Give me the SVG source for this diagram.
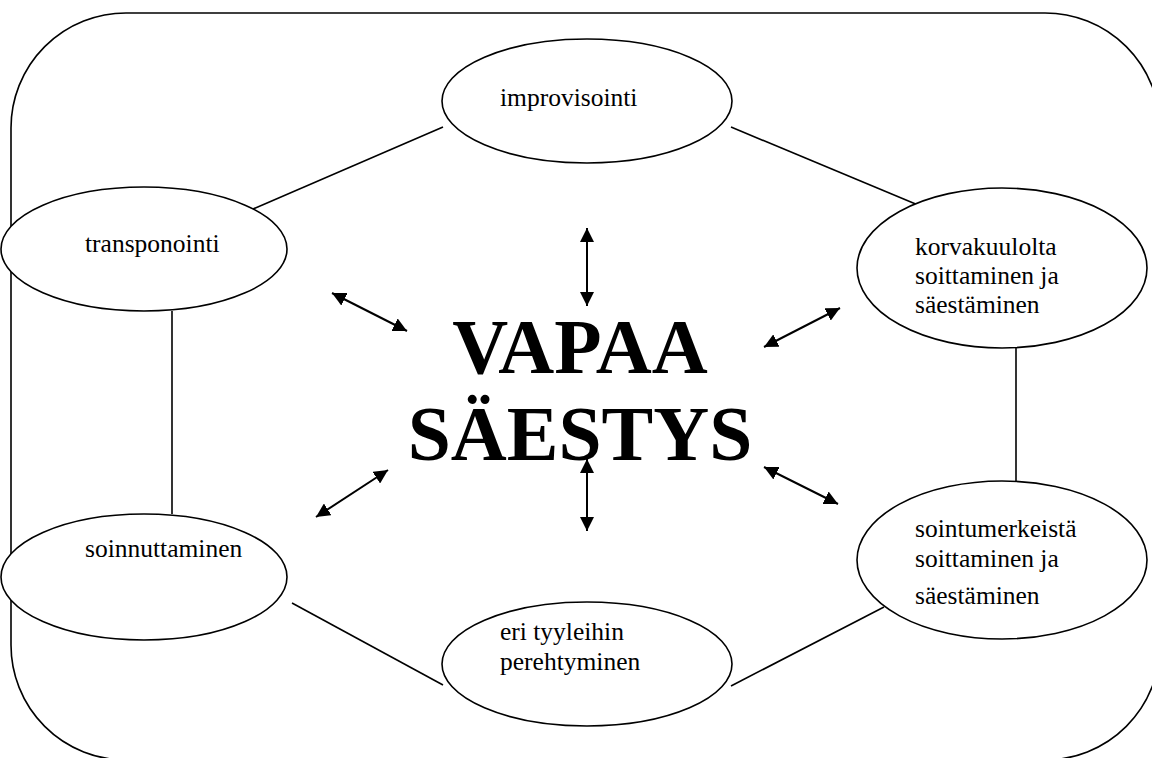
<svg xmlns="http://www.w3.org/2000/svg" width="1152" height="758" viewBox="0 0 1152 758">
<style>
.sh{fill:#fff;stroke:#000;stroke-width:1.6}
.ln{stroke:#000;stroke-width:1.6;fill:none}
.ar{stroke:#000;stroke-width:2;fill:none;marker-start:url(#ah);marker-end:url(#ah)}
.t{font-family:"Liberation Serif","Times New Roman",serif;font-size:25.5px;fill:#000}
.big{font-family:"Liberation Serif","Times New Roman",serif;font-size:77.5px;font-weight:bold;fill:#000;text-anchor:middle}
</style>
<defs>
<marker id="ah" viewBox="0 0 14 14" refX="14" refY="7" markerWidth="14" markerHeight="14" markerUnits="userSpaceOnUse" orient="auto-start-reverse">
<path d="M0,0 L14,7 L0,14 Z" fill="#000"/>
</marker>
</defs>
<rect x="11" y="13" width="1149" height="747" rx="115" ry="115" fill="#fff" stroke="#000" stroke-width="1.6"/>
<g id="connectors">
<line class="ln" x1="443" y1="127" x2="253" y2="209"/>
<line class="ln" x1="731" y1="127" x2="930" y2="210"/>
<line class="ln" x1="172" y1="311" x2="172" y2="514"/>
<line class="ln" x1="1016" y1="348" x2="1016" y2="481"/>
<line class="ln" x1="292" y1="603" x2="443" y2="685"/>
<line class="ln" x1="731" y1="686" x2="884" y2="607"/>
<line class="ar" x1="587" y1="228" x2="587" y2="306"/>
<line class="ar" x1="332" y1="293" x2="407" y2="331"/>
<line class="ar" x1="840" y1="308" x2="764" y2="347"/>
<line class="ar" x1="388" y1="470" x2="316" y2="517"/>
<line class="ar" x1="764" y1="467" x2="838" y2="504"/>
<line class="ar" x1="587" y1="459" x2="587" y2="531"/>
</g>
<g id="n-improvisointi">
<ellipse class="sh" cx="587" cy="101" rx="145" ry="62"/>
<text class="t" x="500" y="106">improvisointi</text>
</g>
<g id="n-transponointi">
<ellipse class="sh" cx="144" cy="249" rx="143" ry="62"/>
<text class="t" x="85" y="252">transponointi</text>
</g>
<g id="n-korvakuulolta">
<ellipse class="sh" cx="1002" cy="268" rx="145" ry="80"/>
<text class="t" x="915" y="255">korvakuulolta</text>
<text class="t" x="915" y="284">soittaminen ja</text>
<text class="t" x="915" y="313">säestäminen</text>
</g>
<g id="n-soinnuttaminen">
<ellipse class="sh" cx="144" cy="577" rx="143" ry="63"/>
<text class="t" x="85" y="557">soinnuttaminen</text>
</g>
<g id="n-sointumerkeista">
<ellipse class="sh" cx="1002" cy="560" rx="145" ry="79"/>
<text class="t" x="915" y="537">sointumerkeistä</text>
<text class="t" x="915" y="567">soittaminen ja</text>
<text class="t" x="915" y="604">säestäminen</text>
</g>
<g id="n-eri-tyyleihin">
<ellipse class="sh" cx="587" cy="664" rx="145" ry="62"/>
<text class="t" x="500" y="640">eri tyyleihin</text>
<text class="t" x="500" y="670">perehtyminen</text>
</g>
<g id="center">
<text class="big" x="580" y="373">VAPAA</text>
<text class="big" x="580" y="460">SÄESTYS</text>
</g>
</svg>
